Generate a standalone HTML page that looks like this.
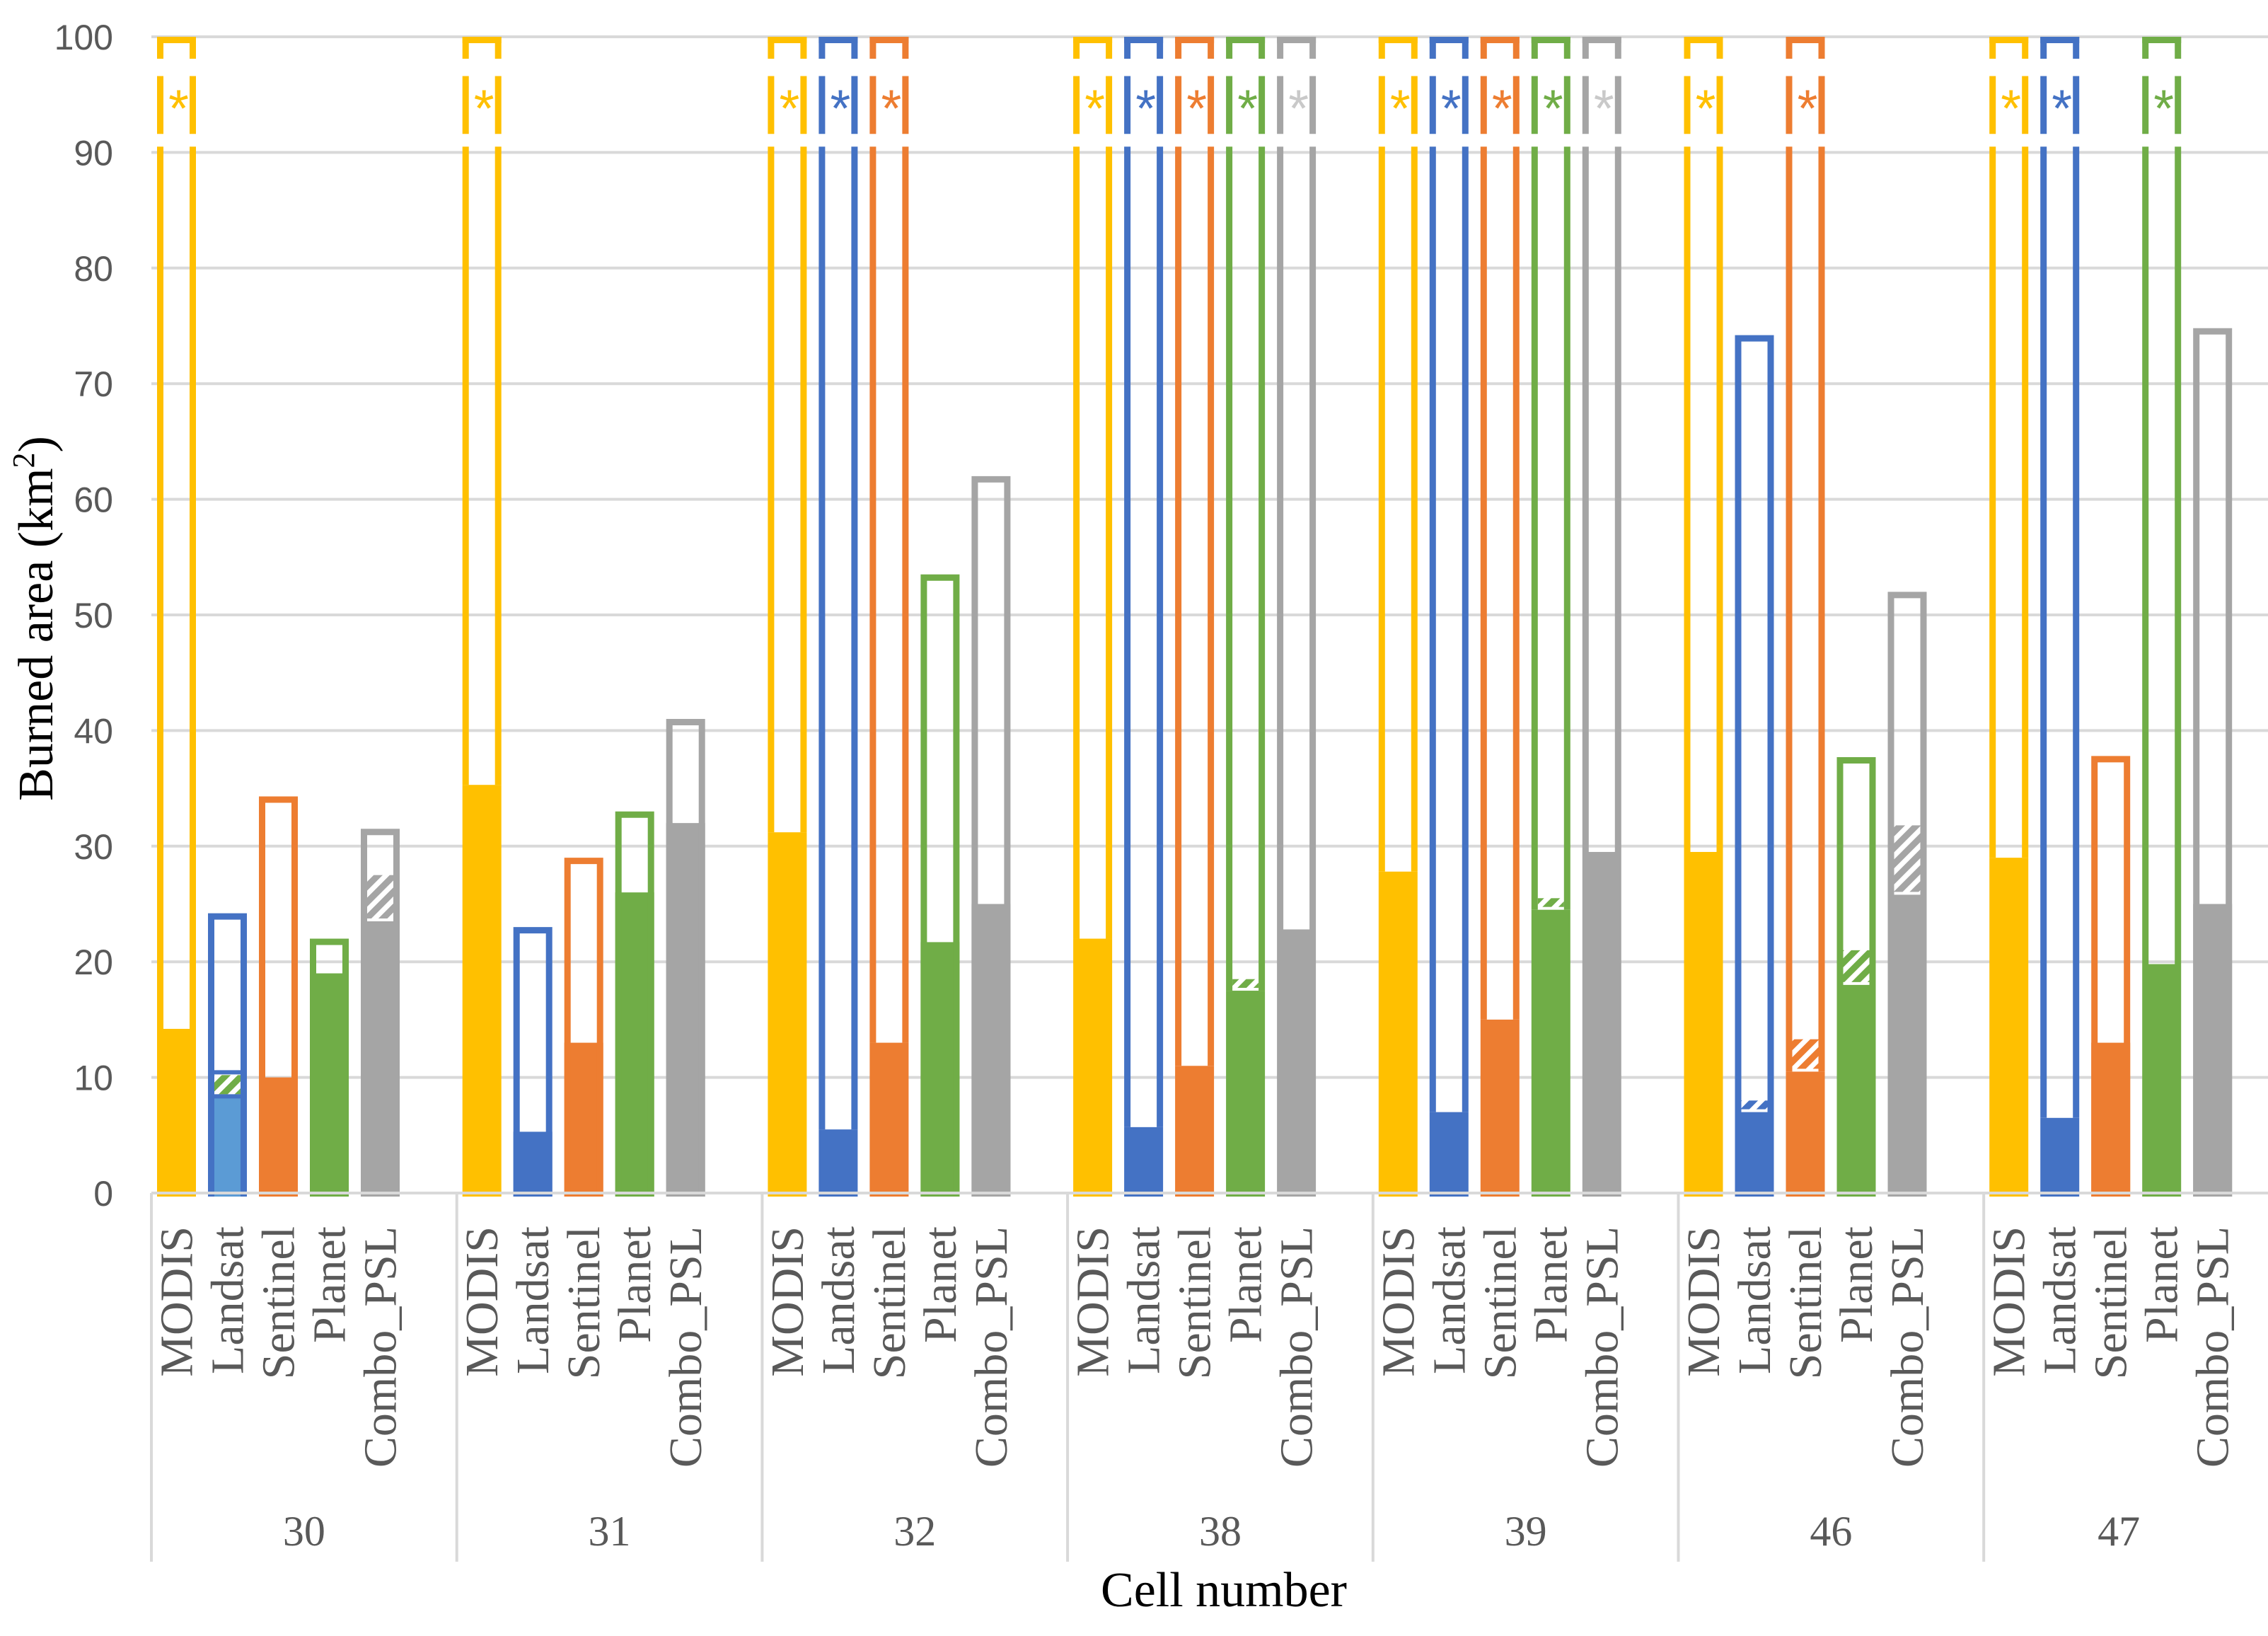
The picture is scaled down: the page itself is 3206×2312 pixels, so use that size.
<!DOCTYPE html>
<html><head><meta charset="utf-8"><style>html,body{margin:0;padding:0;background:#fff;}svg{display:block;}</style></head>
<body>
<svg id="chart" xmlns="http://www.w3.org/2000/svg" width="3206" height="2312" viewBox="0 0 3206 2312">
<defs>
<pattern id="hatch-blue" patternUnits="userSpaceOnUse" width="16" height="16" patternTransform="rotate(45)"><rect width="16" height="16" fill="#fff"/><rect width="9" height="16" fill="#4472C4"/></pattern>
<pattern id="hatch-orange" patternUnits="userSpaceOnUse" width="16" height="16" patternTransform="rotate(45)"><rect width="16" height="16" fill="#fff"/><rect width="9" height="16" fill="#ED7D31"/></pattern>
<pattern id="hatch-green" patternUnits="userSpaceOnUse" width="16" height="16" patternTransform="rotate(45)"><rect width="16" height="16" fill="#fff"/><rect width="9" height="16" fill="#70AD47"/></pattern>
<pattern id="hatch-gray" patternUnits="userSpaceOnUse" width="16" height="16" patternTransform="rotate(45)"><rect width="16" height="16" fill="#fff"/><rect width="9" height="16" fill="#A5A5A5"/></pattern>
</defs>
<g id="grid"></g>
<g id="bars"></g>
<g id="axes"></g>
<text transform="translate(74,874) rotate(-90)" text-anchor="middle" font-family="Liberation Serif, serif" font-size="70" fill="#000">Burned area (km<tspan font-size="44" dy="-26">2</tspan><tspan dy="26">)</tspan></text>
<text x="1730" y="2270" text-anchor="middle" font-family="Liberation Serif, serif" font-size="70" fill="#000">Cell number</text>
</svg>
<script>
const groups = ["30","31","32","38","39","46","47"];
const seriesNames = ["MODIS","Landsat","Sentinel","Planet","Combo_PSL"];
const seriesColors = ["#FFC000","#4472C4","#ED7D31","#70AD47","#A5A5A5"];
// solid (filled) values per series, by group
const solidModis    = [14.2, 35.3, 31.2, 22.0, 27.8, 29.5, 29.0];
const solidLandsat  = [8.3, 5.3, 5.5, 5.7, 7.0, 7.0, 6.5];
const solidSentinel = [10.0, 13.0, 13.0, 11.0, 15.0, 10.5, 13.0];
const solidPlanet   = [19.0, 26.0, 21.7, 17.5, 24.5, 18.0, 19.8];
const solidCombo    = [23.5, 32.0, 25.0, 22.8, 29.5, 25.8, 25.0];
// outline (upper) values; values > 100 are broken bars with asterisk
const outModis    = [120, 120, 120, 120, 120, 120, 120];
const outLandsat  = [24.2, 23.0, 120, 120, 120, 74.2, 120];
const outSentinel = [34.3, 29.0, 120, 120, 120, 120, 37.8];
const outPlanet   = [22.0, 33.0, 53.5, 120, 120, 37.7, 120];
const outCombo    = [31.5, 41.0, 62.0, 120, 120, 52.0, 74.8];
// hatched segment top values (null = none)
const hatchModis    = [null,null,null,null,null,null,null];
const hatchLandsat  = [10.2,null,null,null,null,8.0,null];
const hatchSentinel = [null,null,null,null,null,13.3,null];
const hatchPlanet   = [null,null,null,18.5,25.5,21.0,null];
const hatchCombo    = [27.5,null,null,null,null,31.8,null];
const yTicks = [0,10,20,30,40,50,60,70,80,90,100];

const solids = [solidModis, solidLandsat, solidSentinel, solidPlanet, solidCombo];
const outs = [outModis, outLandsat, outSentinel, outPlanet, outCombo];
const hatches = [hatchModis, hatchLandsat, hatchSentinel, hatchPlanet, hatchCombo];
const hatchFill = ["url(#hatch-gray)","url(#hatch-blue)","url(#hatch-orange)","url(#hatch-green)","url(#hatch-gray)"];

const NS = "http://www.w3.org/2000/svg";
const Y0 = 1686, PXU = 16.34, PLOT_L = 214, GROUP_W = 431.7, BAR0 = 222, PITCH = 72, BW = 55, SW = 9, RIGHT = 3206;
function yS(v){ return Y0 - v*PXU; }
function xBar(g,i){ return BAR0 + g*GROUP_W + i*PITCH; }
function mk(tag, attrs, parent){ const e=document.createElementNS(NS,tag); for(const k in attrs) e.setAttribute(k,attrs[k]); parent.appendChild(e); return e; }

const grid = document.getElementById('grid');
const bars = document.getElementById('bars');
const axes = document.getElementById('axes');

yTicks.forEach(t=>{
  const l = mk('line',{x1:PLOT_L,x2:RIGHT,y1:yS(t),y2:yS(t),stroke:'#d9d9d9','stroke-width':4},grid);
  
  
  const tx = mk('text',{x:160,y:yS(t)+18,'text-anchor':'end','font-family':'Liberation Sans, sans-serif','font-size':50,fill:'#595959'},axes);
  tx.textContent = t;
  
  
});

for(let g=0; g<=groups.length; g++){
  const x = PLOT_L + g*GROUP_W;
  const s = mk('line',{x1:x,x2:x,y1:Y0,y2:2207,stroke:'#d9d9d9','stroke-width':4},axes);
  
  
}

groups.forEach((gname,g)=>{
  const gStart = PLOT_L+g*GROUP_W;
  const gEnd = Math.min(gStart+GROUP_W, RIGHT-20);
  const gl = mk('text',{x:(gStart+gEnd)/2,y:2184,'text-anchor':'middle','font-family':'Liberation Serif, serif','font-size':60,fill:'#595959'},axes);
  gl.textContent = gname;
  
  
  seriesNames.forEach((sn,i)=>{
    const x = xBar(g,i), c = seriesColors[i];
    const solid = solids[i][g], out = outs[i][g], hatch = hatches[i][g];
    const grp = mk('g',{},bars);
    
    
    const special = (g===0 && i===1);
    const fillC = special ? '#5B9BD5' : c;
    mk('rect',{x:x,y:yS(solid),width:BW,height:Y0+5-yS(solid),fill:fillC},grp);
    if(hatch!==null){
      mk('rect',{x:x+SW,y:yS(hatch),width:BW-2*SW,height:yS(solid)-yS(hatch)-4,fill:special?'url(#hatch-green)':hatchFill[i]},grp);
    }
    const lx = x+SW/2, rx = x+BW-SW/2;
    if(out<=100){
      mk('path',{d:`M${lx},${Y0+5} V${yS(out)+SW/2} H${rx} V${Y0+5}`,fill:'none',stroke:c,'stroke-width':SW},grp);
      if(special){
        mk('line',{x1:x,x2:x+BW,y1:yS(solid)-1,y2:yS(solid)-1,stroke:c,'stroke-width':6},grp);
        mk('line',{x1:x,x2:x+BW,y1:yS(hatch)-4,y2:yS(hatch)-4,stroke:c,'stroke-width':6},grp);
      }
    } else {
      const segs = [[100,98.1],[96.6,91.6],[90.5,solid]];
      segs.forEach(([a,b])=>{
        mk('line',{x1:lx,x2:lx,y1:yS(a),y2:yS(b),stroke:c,'stroke-width':SW},grp);
        mk('line',{x1:rx,x2:rx,y1:yS(a),y2:yS(b),stroke:c,'stroke-width':SW},grp);
      });
      mk('line',{x1:x,x2:x+BW,y1:yS(100)+SW/2,y2:yS(100)+SW/2,stroke:c,'stroke-width':SW},grp);
      const st = mk('text',{x:x+BW/2+3,y:yS(94.1)+30,'text-anchor':'middle','font-family':'Liberation Sans, sans-serif','font-size':74,fill:(i===4?'#C9C9C9':c)},grp);
      st.textContent='*';
      
      
    }
    const cl = mk('text',{transform:`translate(${x+BW/2+22},1733) rotate(-90)`,'text-anchor':'end','font-family':'Liberation Serif, serif','font-size':66,fill:'#595959'},axes);
    cl.textContent = sn;
    
    
  });
});
const ax = mk('line',{x1:PLOT_L,x2:RIGHT,y1:Y0,y2:Y0,stroke:'#d9d9d9','stroke-width':4},axes);


</script>
</body></html>
